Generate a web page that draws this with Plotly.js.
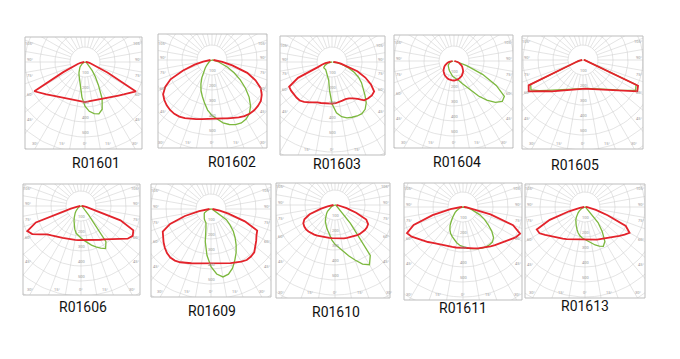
<!DOCTYPE html>
<html><head><meta charset="utf-8">
<script src="https://cdn.plot.ly/plotly-3.0.1.min.js"></script>
<style>html,body{margin:0;padding:0;background:#fff;}#chart{width:680px;height:359px;}</style>
</head><body><div id="chart"></div>
<script>
// gamma angles (deg from nadir), intensity in cd (ring step = 100)
const angles = [-90,-85,-80,-75,-70,-65,-60,-55,-50,-45,-40,-35,-30,-25,-20,-15,-10,-5,0,5,10,15,20,25,30,35,40,45,50,55,60,65,70,75,80,85,90];
const names = ['R01601','R01602','R01603','R01604','R01605','R01606','R01609','R01610','R01611','R01613'];
const ringLabels = ['100','200','300','400','500'];
const angleLabels = ['30°','15°','0°','15°','30°'];

const red01601 = [5,15,30,50,80,160,390,363,336,315,299,286,277,270,265,262,262,263,267,264,262,262,266,271,278,287,300,316,337,364,392,165,82,50,30,15,5];
const green01601 = [0,2,5,8,10,15,20,27,35,47,55,67,80,95,110,140,180,235,295,330,350,358,335,270,180,120,75,47,30,22,15,11,8,5,3,1,0];
const red01602 = [10,30,60,120,205,305,360,398,415,427,435,438,436,428,418,408,400,393,389,390,395,403,412,422,432,437,438,433,425,405,375,320,250,140,70,30,10];
const green01602 = [0,2,5,7,10,15,20,27,35,50,70,100,135,175,215,250,290,335,370,395,425,445,458,463,455,435,400,350,290,230,170,115,66,40,20,10,0];
const red01603 = [10,25,45,70,100,250,330,333,334,335,335,325,310,295,287,283,280,279,278,276,272,267,264,268,280,300,333,342,347,343,300,245,180,105,60,30,10];
const green01603 = [0,10,20,30,40,50,60,67,66,65,66,70,75,82,92,105,125,190,278,340,370,385,392,397,398,385,355,310,270,240,205,165,120,80,45,20,5];
const red01604 = [10,22,32,44,54,64,74,83,91,98,105,111,116,121,125,127,129,130,130,129,126,123,119,114,108,101,94,85,77,67,57,47,36,25,14,5,2];
const green01604 = [5,10,15,22,30,36,42,46,50,54,58,62,66,72,78,86,95,102,108,114,122,138,160,188,230,285,340,390,420,410,325,210,90,40,20,10,5];
const red01605 = [5,12,25,40,70,400,418,368,324,295,268,247,231,218,208,201,196,192,190,192,195,200,207,216,228,243,262,287,320,365,418,405,70,40,25,12,5];
const green01605 = [5,12,24,38,68,385,400,357,314,282,258,240,225,213,204,198,193,190,188,189,192,197,203,211,222,237,255,280,312,355,405,390,68,38,24,12,5];
const red01606 = [5,15,30,70,320,395,375,330,295,278,266,253,245,239,235,232,229,228,227,230,233,237,241,250,260,272,290,315,345,380,398,385,280,90,35,15,5];
const green01606 = [0,2,5,7,10,15,20,27,35,47,60,75,90,110,130,160,185,200,213,230,250,270,290,310,328,290,80,45,30,22,15,11,8,5,3,1,0];
const red01609 = [10,30,80,180,290,355,370,386,402,415,422,420,410,398,385,375,368,365,364,366,370,376,384,392,405,415,414,408,388,368,350,340,240,120,60,25,10];
const green01609 = [0,5,10,17,25,38,50,55,60,65,70,78,85,92,98,130,220,310,385,435,460,450,420,376,335,292,250,210,165,125,50,30,20,13,8,4,0];
const red01610 = [10,25,50,100,180,225,244,250,252,250,246,241,236,231,227,224,222,222,222,224,227,230,234,238,242,248,254,258,260,260,255,230,150,80,45,20,10];
const green01610 = [0,2,5,10,15,25,35,50,65,79,95,110,128,145,162,180,200,235,262,285,315,350,390,435,460,410,160,63,40,28,20,14,10,7,5,2,0];
const red01611 = [5,20,85,210,350,412,395,370,350,330,312,300,290,283,278,275,274,273,273,275,280,286,293,300,310,320,332,345,360,380,405,420,355,190,60,20,5];
const green01611 = [0,5,10,17,25,37,50,65,82,97,120,150,175,195,210,227,242,256,265,273,282,288,295,302,307,308,305,288,250,204,165,124,85,55,30,12,0];
const red01613 = [5,15,35,110,250,355,350,325,302,288,270,258,248,238,230,224,220,218,218,220,223,227,232,237,244,255,268,285,300,322,343,300,160,75,40,15,5];
const green01613 = [0,2,5,10,15,25,35,47,60,75,90,107,122,138,157,178,195,208,217,230,245,262,278,289,265,200,135,50,30,22,15,11,8,5,3,1,0];

const reds = [red01601,red01602,red01603,red01604,red01605,red01606,red01609,red01610,red01611,red01613];
const greens = [green01601,green01602,green01603,green01604,green01605,green01606,green01609,green01610,green01611,green01613];

// layout geometry (pixels): box [left,right,top,bottom], pole [cx,cy], caption [x,y]
const boxes = [[25,142,37,149],[158,267,34,148],[280,385,36,155],[394,513,35,148],[522,643,36,149],
               [23,140,184,295],[151,271,184,297],[276,390,183,298],[404,522,183,300],[525,645,184,298]];
const poles = [[85,62],[212,60],[332,62],[454,61],[583,60],[81,206],[211,209],[335,205],[463,207],[585,207]];
const captions = [[96,163],[232,162],[337,164],[457,162],[575,165],[83,307],[212,311],[336,312],[463,308],[585,306]];

const W=680,H=359,PX=15,STEP=100,D2R=Math.PI/180;
const traces=[],annotations=[],shapes=[];
const layout={width:W,height:H,margin:{l:0,r:0,t:0,b:0},paper_bgcolor:'#fff',plot_bgcolor:'#fff',showlegend:false};

names.forEach((nm,i)=>{
  const k=i===0?'':String(i+1);
  const xa='x'+k, ya='y'+k;
  const [l,r,t,b]=boxes[i], [cx,cy]=poles[i];
  const xmin=-(cx-l)/PX, xmax=(r-cx)/PX, ymin=-(b-cy)/PX, ymax=(cy-t)/PX;
  layout['xaxis'+k]={domain:[l/W,r/W],range:[xmin,xmax],anchor:ya,visible:false,fixedrange:true};
  layout['yaxis'+k]={domain:[1-b/H,1-t/H],range:[ymin,ymax],anchor:xa,visible:false,fixedrange:true};
  // grid rings
  const gx=[],gy=[];
  for(let ring=1;ring<=9;ring++){
    for(let a=0;a<=360;a+=3){gx.push(ring*Math.sin(a*D2R));gy.push(-ring*Math.cos(a*D2R));}
    gx.push(null);gy.push(null);
  }
  for(let a=0;a<360;a+=10){
    gx.push(Math.sin(a*D2R),12*Math.sin(a*D2R),null);
    gy.push(-Math.cos(a*D2R),-12*Math.cos(a*D2R),null);
  }
  traces.push({x:gx,y:gy,xaxis:xa,yaxis:ya,mode:'lines',line:{color:'#d2d2d2',width:0.6},hoverinfo:'skip'});
  // photometric curves
  const mk=(arr,color,w)=>({
    x:arr.map((v,j)=>v/STEP*Math.sin(angles[j]*D2R)),
    y:arr.map((v,j)=>-v/STEP*Math.cos(angles[j]*D2R)),
    xaxis:xa,yaxis:ya,mode:'lines',line:{color:color,width:w},hoverinfo:'skip'});
  traces.push(mk(greens[i],'#7cb83e',1.3));
  traces.push(mk(reds[i],'#e3232b',1.8));
  // frame
  shapes.push({type:'rect',xref:xa+' domain',yref:ya+' domain',x0:0,x1:1,y0:0,y1:1,line:{color:'#bdbdbd',width:1}});
  // ring labels
  ringLabels.forEach((txt,j)=>{
    if(j+1<-ymin-0.3) annotations.push({xref:xa,yref:ya,x:0,y:-(j+1)+0.3,text:txt,showarrow:false,font:{size:4,color:'#999',family:'Roboto'}});
  });
  // side angle labels
  [45,60,75,90,105].forEach(a=>{
    const yy=-(-xmin)*Math.cos(a*D2R)/Math.sin(a*D2R);
    if(yy>ymin+0.3&&yy<ymax-0.2){
      annotations.push({xref:xa,yref:ya,x:xmin+0.3,y:yy+0.15,text:a+'°',showarrow:false,font:{size:4,color:'#999',family:'Roboto'}});
      annotations.push({xref:xa,yref:ya,x:xmax-0.3,y:yy+0.15,text:a+'°',showarrow:false,font:{size:4,color:'#999',family:'Roboto'}});
    }
  });
  [-30,-15,0,15,30].forEach((a,j)=>{
    annotations.push({xref:xa,yref:ya,x:-ymin*Math.tan(a*D2R),y:ymin+0.35,text:angleLabels[j],showarrow:false,font:{size:4,color:'#999',family:'Roboto'}});
  });
  // caption
  annotations.push({xref:'paper',yref:'paper',x:captions[i][0]/W,y:1-captions[i][1]/H,xanchor:'center',yanchor:'middle',
    text:nm,showarrow:false,font:{size:14,color:'#111',family:'Roboto'}});
});
layout.annotations=annotations;layout.shapes=shapes;
Plotly.newPlot('chart',traces,layout,{staticPlot:true,displayModeBar:false});
</script></body></html>
